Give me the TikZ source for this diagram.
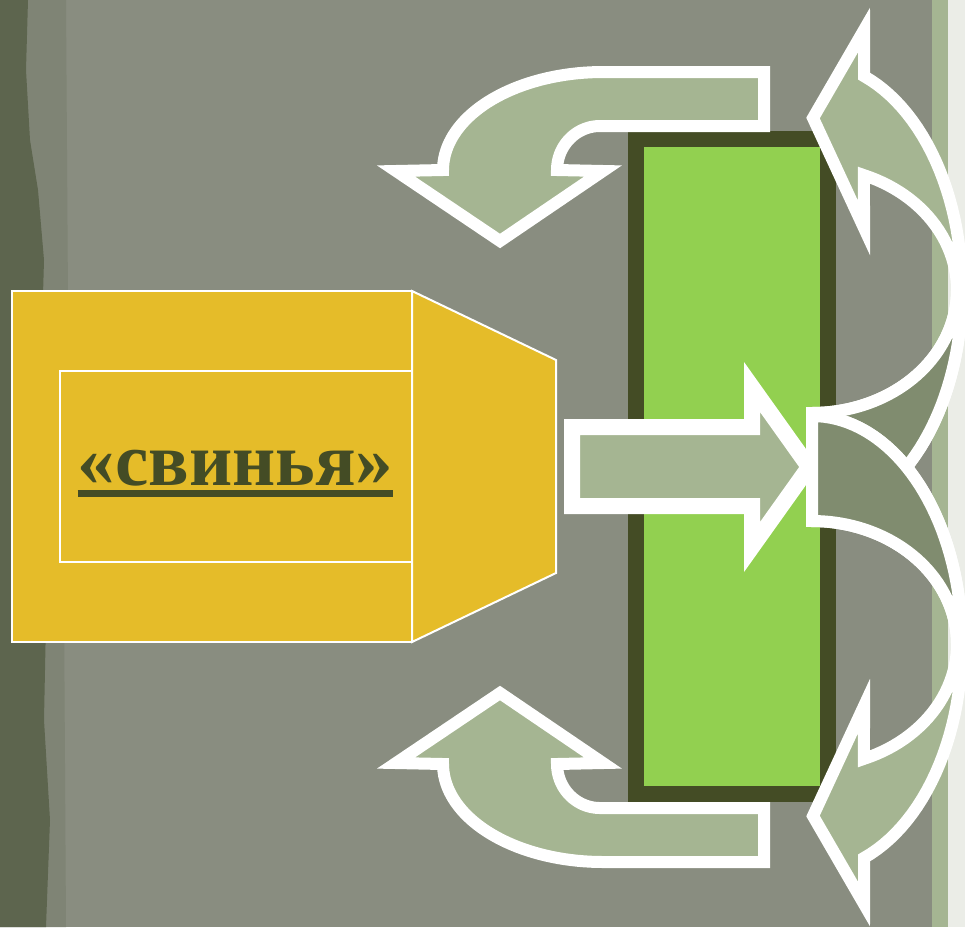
\documentclass[tikz,border=0pt]{standalone}
\usepackage{fontspec}
\setmainfont{Liberation Serif}

\begin{document}
\begin{tikzpicture}[x=1pt,y=-1pt]
  \definecolor{wall}{HTML}{898D80}
  \definecolor{moss}{HTML}{5D654E}
  \definecolor{olive}{HTML}{444C25}
  \definecolor{lawn}{HTML}{92D050}
  \definecolor{gold}{HTML}{E5BC29}
  \definecolor{sage}{HTML}{A5B592}
  \definecolor{sagedk}{HTML}{808C6F}
  \definecolor{paper}{HTML}{EBEDE7}
  \tikzset{
    blockarrow/.style={fill=sage,draw=white,line width=12pt,line join=miter},
    backband/.style={fill=sagedk,draw=white,line width=12pt,line join=miter},
    wedgepart/.style={fill=gold,draw=white,line width=2pt}
  }
  \useasboundingbox (0,0) rectangle (965,927);

  % backdrop
  \fill[wall] (0,0) rectangle (965,927);
  \fill[moss!22!wall] (0,0) -- (66,0) -- (68,300) -- (64,600) -- (66,927) -- (0,927) -- cycle;
  \fill[moss] (0,0) -- (28,0) -- (26,70) -- (30,140) -- (38,190) -- (44,260) -- (42,330)
    -- (36,420) -- (40,520) -- (46,620) -- (44,720) -- (50,820) -- (46,927) -- (0,927) -- cycle;
  \fill[sage] (932,0) rectangle (948,927);
  \fill[paper] (948,0) rectangle (965,927);

  % the wedge
  \draw[wedgepart] (12,291) rectangle (412,642);
  \draw[wedgepart] (412,291) -- (556,360) -- (556,573) -- (412,642) -- cycle;
  \draw[wedgepart] (60,371) rectangle (412,562);
  \node[font=\bfseries\fontsize{75}{75}\selectfont,text=olive,anchor=base,inner sep=0pt]
    (pig) at (235.5,485) {«свинья»};
  \draw[olive,line width=6.5pt] ([yshift=-8.5pt]pig.base west) -- ([yshift=-8.5pt]pig.base east);

  % the line of the defenders
  \draw[fill=lawn,draw=olive,line width=16pt] (636,139) rectangle (828,794);

  % arrows turning away, top and bottom
  \draw[blockarrow] (764,72) -- (603,72)
    -- plot[domain=270:180,samples=40] ({603+160*cos(\x)},{170+98*sin(\x)})
    -- (396,171) -- (500,241) -- (603,171) -- (557,170)
    -- plot[domain=180:270,samples=30] ({600+43*cos(\x)},{170+44*sin(\x)})
    -- (764,126) -- cycle;
  \draw[blockarrow] (764,862) -- (603,862)
    -- plot[domain=90:180,samples=40] ({603+160*cos(\x)},{764+98*sin(\x)})
    -- (396,763) -- (500,693) -- (603,763) -- (557,764)
    -- plot[domain=180:90,samples=30] ({600+43*cos(\x)},{764+44*sin(\x)})
    -- (764,808) -- cycle;

  % the head-on strike
  \draw[blockarrow,line width=16pt] (572,427) -- (752,427) -- (752,387) -- (809,467)
    -- (752,547) -- (752,506) -- (572,506) -- cycle;

  % split around the flanks: upper
  \draw[blockarrow] (812,413)
    -- plot[domain=90:-69,samples=60] ({812+145*cos(\x)},{290+123*sin(\x)})
    -- (864,228) -- (813,118) -- (864,30)
    -- plot[domain=-69.7:90,samples=60] ({812+150*cos(\x)},{290+228*sin(\x)}) -- cycle;
  \draw[backband] plot[domain=0:90,samples=40] ({812+145*cos(\x)},{290+123*sin(\x)})
    -- plot[domain=90:0,samples=40] ({812+150*cos(\x)},{290+228*sin(\x)}) -- cycle;

  % split around the flanks: lower
  \draw[blockarrow] (812,521)
    -- plot[domain=-90:69,samples=60] ({812+145*cos(\x)},{644+123*sin(\x)})
    -- (864,706) -- (813,816) -- (864,904)
    -- plot[domain=69.7:-90,samples=60] ({812+150*cos(\x)},{644+228*sin(\x)}) -- cycle;
  \draw[backband] plot[domain=0:-90,samples=40] ({812+145*cos(\x)},{644+123*sin(\x)})
    -- plot[domain=-90:0,samples=40] ({812+150*cos(\x)},{644+228*sin(\x)}) -- cycle;
\end{tikzpicture}
\end{document}
